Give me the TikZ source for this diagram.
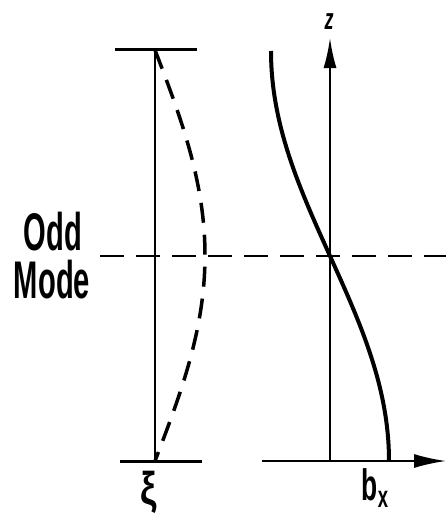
\documentclass[tikz,border=0pt]{standalone}
\usepackage{fontspec}
\setmainfont{Liberation Sans}
\usetikzlibrary{positioning, arrows.meta}

\begin{document}
\begin{tikzpicture}[
x=1pt, y=-1pt,
bar/.style={line width=3pt},
thinline/.style={line width=1.6pt},
modecurve/.style={line width=3.5pt, dash pattern=on 20pt off 12pt},
midline/.style={line width=2pt, dash pattern=on 24pt off 12pt},
fieldcurve/.style={line width=4pt},
axis/.style={line width=2pt, -{Latex[length=30pt, width=13pt]}},
lab/.style={font=\bfseries\fontsize{53}{53}\selectfont, xscale=0.55, inner sep=0pt}
]
\useasboundingbox (0,0) rectangle (446,527);

% left: displacement xi
\coordinate (xi_top) at (155,50);
\coordinate (xi_bot) at (155,461);
\draw[bar] (115,50) -- (197,50);
\draw[bar] (120,461) -- (202,461);
\draw[thinline] (xi_top) -- (xi_bot);
\draw[modecurve] plot[domain=0:1, samples=60, smooth] ({155+50*sin(180*\x)}, {50+411*\x});

% right: field b_x
\coordinate (ax_orig) at (330,461);
\coordinate (ax_top) at (330,38);
\coordinate (ax_left) at (262,461);
\coordinate (ax_right) at (446,461);
\draw[axis] (ax_orig) -- (ax_top);
\draw[axis, -{Latex[length=32pt, width=14pt]}] (ax_left) -- (ax_right);
\draw[fieldcurve] plot[domain=-0.5:0.5, samples=60, smooth] ({330+59*sin(180*\x)}, {256+410*\x});

% mid plane
\coordinate (mid_left) at (100,256);
\coordinate (mid_right) at (446,256);
\draw[midline] (mid_left) -- (mid_right);

% labels
\node[lab, anchor=base] (lab_odd) at (53,250) {Odd};
\node[lab, anchor=base] (lab_mode) at (52,298) {Mode};
\node[font=\bfseries\fontsize{46}{46}\selectfont, inner sep=0pt, xscale=0.8] (lab_xi) at (149,492) {ξ};
\node[font=\bfseries\fontsize{30}{30}\selectfont, inner sep=0pt, xscale=0.6] (lab_z) at (329,22) {\itshape z};
\node[font=\bfseries\fontsize{44}{44}\selectfont, inner sep=0pt, xscale=0.6] (lab_bx) at (375,488) {b\textsubscript{x}};
\end{tikzpicture}
\end{document}
